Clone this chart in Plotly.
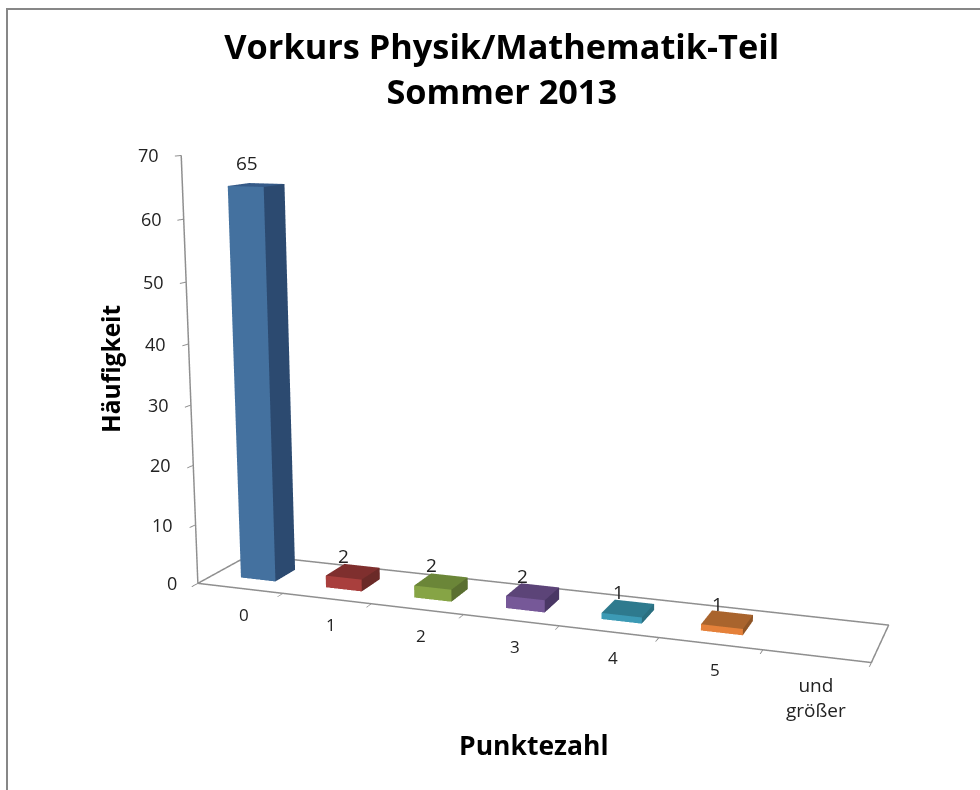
import plotly.graph_objects as go

categories = ["0", "1", "2", "3", "4", "5", "und<br>größer"]
values = [65, 2, 2, 2, 1, 1, 0]
colors = ["#44719F", "#A93F3D", "#86A445", "#765898", "#3C9AB5", "#E5813A", "#44719F"]
side = ["#2C4A70", "#6B2A28", "#5A6F30", "#4A3765", "#2A6F80", "#8F5526", "#2C4A70"]
top = ["#355A88", "#7F2F2E", "#6B8638", "#5C4478", "#2E7A8E", "#A9642D", "#355A88"]
yticks = [0, 10, 20, 30, 40, 50, 60, 70]
GREY = "#8f8f8f"
TXT = "#222222"
FONT = "Open Sans"
H = 1400      # a taller canvas narrows the field of view of the 3D camera
OFF = 313     # the part of the canvas above the window


def py(y):
    return 1 - (y + OFF) / H


fig = go.Figure()
W = 0.205
D = 0.2
C = 0.53
notes = []
for i, v in enumerate(values):
    if v <= 0:
        continue
    x0, x1 = i + C - W, i + C + W
    y0, y1 = 0.5 - D, 0.5 + D
    faces = [
        ([x0, x1, x1, x0], [y0, y0, y0, y0], [0, 0, v, v], colors[i]),
        ([x1, x1, x1, x1], [y0, y1, y1, y0], [0, 0, v, v], side[i]),
        ([x0, x1, x1, x0], [y0, y0, y1, y1], [v, v, v, v], top[i]),
    ]
    for fx, fy, fz, c in faces:
        fig.add_trace(go.Mesh3d(x=fx, y=fy, z=fz, i=[0, 0], j=[1, 2], k=[2, 3], color=c, flatshading=True,
                                lighting=dict(ambient=1, diffuse=0, specular=0, roughness=1), hoverinfo="skip"))
    notes.append(dict(x=i + C, y=0.5, z=v, text=str(v), showarrow=False, yshift=22 if v > 10 else 16, xshift=-10,
                      font=dict(size=19, family=FONT, color=TXT)))

for i, c in enumerate(categories):
    notes.append(dict(x=i + 0.5, y=0, z=0, text=c, showarrow=False, yshift=-26 if i < 6 else -41, xshift=4 if i < 6 else -1,
                      font=dict(size=17 if i < 6 else 19, family=FONT, color=TXT)))
for t in yticks:
    notes.append(dict(x=0, y=0, z=t, text=str(t), showarrow=False, xshift=-33 if t else -26,
                      font=dict(size=18, family=FONT, color=TXT)))

fig.add_trace(go.Scatter3d(x=[0, 7, 7, 0, 0], y=[0, 0, 1, 1, 0], z=[0, 0, 0, 0, 0], mode="lines",
                           line=dict(color=GREY, width=3), hoverinfo="skip"))

axstyle = dict(showbackground=False, showspikes=False, title="", showgrid=False, zeroline=False,
               linecolor=GREY, linewidth=3, tickcolor=GREY, tickwidth=2, ticklen=8, ticks="outside", showline=True,
               showticklabels=False)
fig.update_layout(
    width=980, height=H, showlegend=False, paper_bgcolor="white",
    margin=dict(l=0, r=0, t=0, b=0),
    title=dict(text="<b>Vorkurs Physik/Mathematik-Teil<br>Sommer 2013</b>", x=0.512, xanchor="center", y=py(59), yanchor="top",
               font=dict(size=34.3, family=FONT, color="black")),
    scene=dict(
        domain=dict(x=[0.082, 1], y=[0, 1]),
        aspectmode="manual", aspectratio=dict(x=2.093, y=0.33, z=1.33),
        camera=dict(eye=dict(x=1.654, y=-4.593, z=0.944), center=dict(x=0, y=0, z=0), up=dict(x=0, y=0, z=1),
                    projection=dict(type="perspective")),
        xaxis=dict(axstyle, range=[0, 7], tickvals=list(range(8))),
        yaxis=dict(axstyle, range=[0, 1], ticks=""),
        zaxis=dict(axstyle, range=[0, 70], tickvals=yticks),
        annotations=notes,
    ),
    annotations=[
        dict(text="<b>Häufigkeit</b>", x=111/980, y=py(369), xref="paper", yref="paper", textangle=-90, showarrow=False,
             xanchor="center", yanchor="middle", font=dict(size=24.5, family=FONT, color="black")),
        dict(text="<b>Punktezahl</b>", x=534/980, y=py(745), xref="paper", yref="paper", showarrow=False,
             xanchor="center", yanchor="middle", font=dict(size=26.5, family=FONT, color="black")),
    ],
    shapes=[
        dict(type="line", xref="paper", yref="paper", x0=7/980, x1=7/980, y0=py(790), y1=py(8), line=dict(color="#878787", width=2)),
        dict(type="line", xref="paper", yref="paper", x0=6/980, x1=1, y0=py(9), y1=py(9), line=dict(color="#878787", width=2)),
    ],
)
fig.write_html("out.html", config=dict(displayModeBar=False),
               post_script=f"document.body.style.margin='-{OFF}px 0 0 0';document.documentElement.style.overflow='hidden';document.body.style.overflow='hidden';")
